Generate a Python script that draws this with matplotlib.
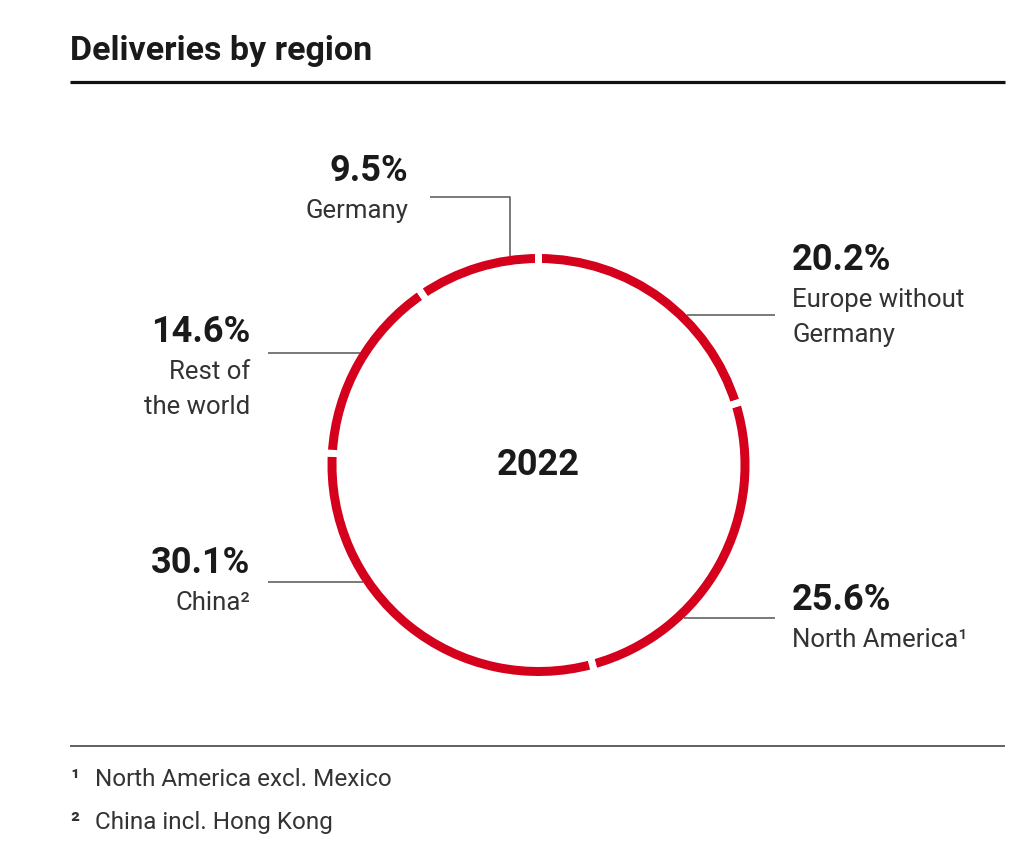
import numpy as np
import matplotlib
matplotlib.use("Agg")
import matplotlib.pyplot as plt

plt.rcParams['font.family'] = ['Roboto', 'DejaVu Sans']

# data, clockwise from 12 o'clock
regions = ["Europe without\nGermany", "North America\u00b9", "China\u00b2",
           "Rest of\nthe world", "Germany"]
shares = [20.2, 25.6, 30.1, 14.6, 9.5]
year = "2022"
title = "Deliveries by region"
footnotes = [("\u00b9", "North America excl. Mexico"),
             ("\u00b2", "China incl. Hong Kong")]

W, H = 1024, 855
red = "#d5001c"
dark = "#1a1a1a"
txt = "#333333"
grey = "#555555"

fig = plt.figure(figsize=(W / 100, H / 100), dpi=100)
fig.patch.set_facecolor("white")

# ring
cx, cy, R = 538.5, 465, 214.5   # outer radius incl. white stroke
lw_px = 7
ring_px = 16
pax = fig.add_axes([(cx - R) / W, (H - cy - R) / H, 2 * R / W, 2 * R / H])
pax.pie(shares, startangle=90, counterclock=False, radius=1,
        colors=[red] * len(shares),
        wedgeprops=dict(width=ring_px / R, edgecolor="white",
                        linewidth=lw_px * 72 / 100))
pax.set_xlim(-1, 1)
pax.set_ylim(-1, 1)
pax.set_aspect("equal")
pax.axis("off")

# pixel canvas for text and lines, on top of the ring
ax = fig.add_axes([0, 0, 1, 1])
ax.set_xlim(0, W)
ax.set_ylim(H, 0)
ax.axis("off")
ax.set_zorder(3)
ax.patch.set_alpha(0)

r_vis = R - lw_px / 2


def ring_x(y, side):
    return cx + side * np.sqrt(r_vis ** 2 - (y - cy) ** 2)


# title and rules
ax.text(70, 60, title, fontsize=24.5, fontweight="bold", color=dark,
        ha="left", va="baseline")
ax.plot([70, 1005], [82.5, 82.5], color="#111111", lw=2.3,
        solid_capstyle="butt")
ax.plot([70, 1005], [746, 746], color=grey, lw=1.3, solid_capstyle="butt")

ax.text(cx, 465, year, fontsize=26, fontweight="bold", color=dark,
        ha="center", va="center")

# label layout: (x, y of value, ha, leader y, side)
layout = [
    (792, 260, "left", 315, 1),
    (792, 600, "left", 618, 1),
    (250, 563, "right", 582, -1),
    (250, 332, "right", 353, -1),
    (408, 171, "right", None, 0),
]

for reg, val, (x, y, ha, ly, side) in zip(regions, shares, layout):
    ax.text(x, y, f"{val}%", fontsize=26, fontweight="bold", color=dark,
            ha=ha, va="center")
    for i, line in enumerate(reg.split("\n")):
        ax.text(x, y + 40 + 35 * i, line, fontsize=18.5, color=txt,
                ha=ha, va="center")
    if side == 1:
        ax.plot([ring_x(ly, 1), 775], [ly, ly], color=grey, lw=1.1,
                solid_capstyle="butt")
    elif side == -1:
        ax.plot([268, ring_x(ly, -1)], [ly, ly], color=grey, lw=1.1,
                solid_capstyle="butt")
    else:
        gx = 510
        gy = cy - np.sqrt(r_vis ** 2 - (gx - cx) ** 2)
        ax.plot([430, gx, gx], [197, 197, gy], color=grey, lw=1.1,
                solid_capstyle="butt")

for i, (mark, note) in enumerate(footnotes):
    y = 779 + 43 * i
    ax.text(70, y, mark, fontsize=17.5, color=txt, fontweight="bold",
            ha="left", va="center")
    ax.text(95, y, note, fontsize=17.5, color=txt, ha="left", va="center")

fig.savefig("out.png", dpi=100, facecolor="white")
